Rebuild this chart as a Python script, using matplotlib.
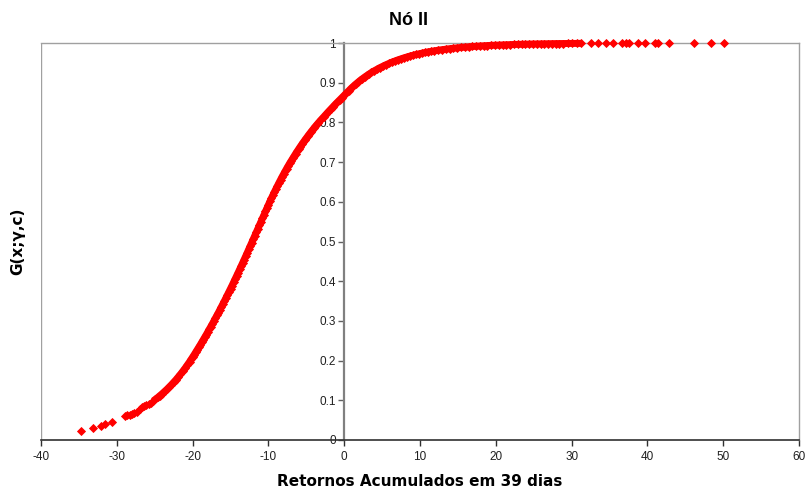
#!/usr/bin/env python

import matplotlib
matplotlib.use("Agg")
import matplotlib.pyplot as plt
import numpy as np

# leituras do grafico: retornos acumulados (x) e G(x;gamma,c) (y)
tail_low_x = [-34.7, -33.2, -32.1, -31.5, -30.6,
              -28.9, -28.6, -28.3, -28.0, -27.7, -27.4,
              -27.0, -26.7, -26.4, -26.1, -25.8, -25.5]
tail_low_y = [0.0235, 0.029, 0.035, 0.0395, 0.045,
              0.060, 0.062, 0.064, 0.066, 0.068, 0.071,
              0.079, 0.082, 0.085, 0.088, 0.091, 0.094]

body_x = [-25.2, -24.9, -24.6, -24.3, -24.0, -23.7, -23.4, -23.1, -22.8, -22.5,
          -22.2, -21.9, -21.6, -21.3, -21.0, -20.7, -20.4,
          -20.2, -20.0, -19.8, -19.6, -19.4, -19.2, -19.0, -18.8, -18.6, -18.4,
          -18.2, -18.0, -17.8, -17.6, -17.4, -17.2, -17.0, -16.8, -16.6, -16.4,
          -16.2, -16.0, -15.8, -15.6, -15.4, -15.2, -15.0, -14.8, -14.6, -14.4,
          -14.2, -14.0, -13.8, -13.6, -13.4, -13.2, -13.0, -12.8, -12.6, -12.4,
          -12.2, -12.0, -11.8, -11.6, -11.4, -11.2, -11.0, -10.8, -10.6, -10.4,
          -10.2, -10.0, -9.8, -9.6, -9.4, -9.2, -9.0, -8.8, -8.6, -8.4,
          -8.2, -8.0, -7.8, -7.6, -7.4, -7.2, -7.0, -6.8, -6.6, -6.4,
          -6.2, -6.0, -5.8, -5.6, -5.4, -5.2, -5.0, -4.8, -4.6, -4.4,
          -4.2, -4.0, -3.8, -3.6, -3.4, -3.0, -2.7, -2.4, -2.1, -1.8,
          -1.5, -1.2, -0.9, -0.6, -0.3, 0.0, 0.3, 0.6, 0.9, 1.2,
          1.5, 1.8, 2.1, 2.4, 2.7, 3.0, 3.3, 3.6, 3.9, 4.3,
          4.7, 5.1, 5.5, 5.9, 6.3, 6.7, 7.1, 7.5, 7.9, 8.3,
          8.7, 9.1, 9.5, 9.9, 10.3, 10.7, 11.1, 11.5, 11.9, 12.4,
          12.9, 13.4, 13.9, 14.4, 14.9, 15.4, 15.9, 16.4, 16.9, 17.4,
          17.9, 18.4, 18.9, 19.4, 19.9, 20.4, 20.9, 21.4, 21.9, 22.4,
          22.9, 23.4, 23.9, 24.4, 24.9, 25.4, 25.9, 26.4, 26.9, 27.4,
          27.9, 28.4, 28.9, 29.5, 30.1, 30.7, 31.3]
body_y = [0.0983, 0.1026, 0.1072, 0.1120, 0.1170, 0.1222, 0.1276, 0.1333, 0.1392, 0.1454,
          0.1518, 0.1586, 0.1656, 0.1730, 0.1807, 0.1887, 0.1971,
          0.2029, 0.2089, 0.2148, 0.2209, 0.2270, 0.2333, 0.2395, 0.2459, 0.2523, 0.2589,
          0.2654, 0.2721, 0.2788, 0.2857, 0.2925, 0.2995, 0.3065, 0.3137, 0.3208, 0.3281,
          0.3355, 0.3429, 0.3504, 0.3580, 0.3656, 0.3733, 0.3812, 0.3890, 0.3970, 0.4050,
          0.4131, 0.4213, 0.4295, 0.4377, 0.4460, 0.4544, 0.4629, 0.4714, 0.4799, 0.4885,
          0.4972, 0.5059, 0.5146, 0.5234, 0.5321, 0.5409, 0.5497, 0.5585, 0.5671, 0.5757,
          0.5843, 0.5927, 0.6010, 0.6092, 0.6173, 0.6252, 0.6330, 0.6407, 0.6482, 0.6557,
          0.6629, 0.6700, 0.6770, 0.6837, 0.6904, 0.6969, 0.7032, 0.7095, 0.7156, 0.7216,
          0.7275, 0.7333, 0.7390, 0.7446, 0.7501, 0.7554, 0.7607, 0.7659, 0.7709, 0.7759,
          0.7807, 0.7855, 0.7902, 0.7948, 0.7993, 0.8079, 0.8143, 0.8207, 0.8269, 0.8331,
          0.8392, 0.8452, 0.8510, 0.8568, 0.8625, 0.8681, 0.8742, 0.8801, 0.8857, 0.8911,
          0.8962, 0.9010, 0.9057, 0.9101, 0.9143, 0.9183, 0.9221, 0.9258, 0.9293, 0.9337,
          0.9378, 0.9416, 0.9452, 0.9486, 0.9518, 0.9548, 0.9576, 0.9602, 0.9627, 0.9650,
          0.9672, 0.9692, 0.9711, 0.9729, 0.9746, 0.9762, 0.9777, 0.9790, 0.9803, 0.9819,
          0.9832, 0.9845, 0.9857, 0.9868, 0.9878, 0.9888, 0.9896, 0.9904, 0.9912, 0.9918,
          0.9925, 0.9930, 0.9936, 0.9941, 0.9945, 0.9950, 0.9953, 0.9957, 0.9960, 0.9963,
          0.9966, 0.9969, 0.9971, 0.9973, 0.9975, 0.9977, 0.9979, 0.9981, 0.9982, 0.9984,
          0.9985, 0.9986, 0.9987, 0.9988, 0.9989, 0.9990, 0.9991]

tail_high_x = [32.6, 33.5, 34.5, 35.4, 36.7, 37.2, 37.6, 38.7, 39.7, 41.0,
               41.4, 42.9, 46.1, 48.4, 50.1]
tail_high_y = [0.9992, 0.9993, 0.9993, 0.9994, 0.9995, 0.9995, 0.9995, 0.9996, 0.9996, 0.9997,
               0.9997, 0.9997, 0.9998, 0.9999, 0.9999]

x = np.array(tail_low_x + body_x + tail_high_x)
y = np.array(tail_low_y + body_y + tail_high_y)

xticks = [-40, -30, -20, -10, 0, 10, 20, 30, 40, 50, 60]
yticks = [0, 0.1, 0.2, 0.3, 0.4, 0.5, 0.6, 0.7, 0.8, 0.9, 1]
ytick_labels = ["0", "0.1", "0.2", "0.3", "0.4", "0.5", "0.6", "0.7", "0.8", "0.9", "1"]

fig = plt.figure(figsize=(8.08, 4.96), dpi=100)
ax = fig.add_axes([41/808., 56/496., 758/808., 397/496.])

# a parte densa dos pontos forma uma faixa continua
ax.plot(body_x, body_y, ls='-', lw=5.0, color='#ff0000',
        solid_capstyle='butt', clip_on=False, zorder=3)
ax.plot(x, y, ls='none', marker='D', markersize=4.0,
        markerfacecolor='#ff0000', markeredgecolor='#ff0000',
        markeredgewidth=0.6, clip_on=False, zorder=3)

ax.set_xlim(-40, 60)
ax.set_ylim(0, 1)

# moldura cinza clara, eixo y no zero
for s in ['top', 'right']:
    ax.spines[s].set_color('#a0a0a0')
    ax.spines[s].set_linewidth(1.0)
ax.spines['left'].set_position(('data', 0))
ax.spines['left'].set_color('#808080')
ax.spines['left'].set_linewidth(1.6)
ax.spines['bottom'].set_color('#303030')
ax.spines['bottom'].set_linewidth(1.2)
ax.axvline(-40, color='#a0a0a0', lw=1.0, zorder=1)

ax.set_xticks(xticks)
ax.set_xticklabels([str(t) for t in xticks])
ax.set_yticks(yticks)
ax.set_yticklabels(ytick_labels)

tickfont = ['Liberation Sans', 'DejaVu Sans']
ax.tick_params(axis='x', direction='out', length=4, width=1, color='#303030',
               pad=4, labelsize=8.5, labelcolor='#202020')
ax.tick_params(axis='y', direction='out', length=4, width=1, color='#606060',
               pad=2, labelsize=8.5, labelcolor='#202020')
for lab in ax.get_xticklabels() + ax.get_yticklabels():
    lab.set_family(tickfont)

fig.text(0.505, 0.958, u"Nó II", ha='center', va='center',
         fontsize=13, fontweight='bold', family=['Liberation Sans', 'DejaVu Sans'])
fig.text(420/808., 1 - 481/496., "Retornos Acumulados em 39 dias",
         ha='center', va='center', fontsize=11, fontweight='bold',
         family='DejaVu Sans')
fig.text(18/808., 1 - 241/496., u"G(x;γ,c)", ha='center', va='center',
         rotation=90, fontsize=11, fontweight='bold', family='DejaVu Sans')

plt.savefig("out.png", dpi=100, facecolor='white')
